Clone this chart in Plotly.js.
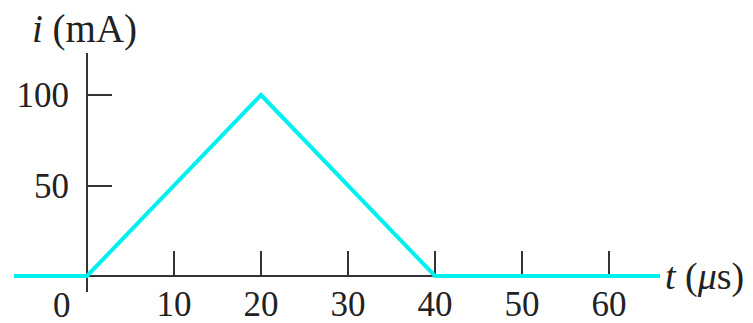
<!DOCTYPE html>
<html>
<head>
<meta charset="utf-8">
<script src="https://cdn.plot.ly/plotly-3.0.1.min.js"></script>
<style>html,body{margin:0;padding:0;background:#fff;}#chart{width:753px;height:323px;}</style>
</head>
<body>
<div id="chart"></div>
<script>
// Data
const timeUs = [-8.4, 0, 20, 40, 66];
const currentMA = [0, 0, 100, 0, 0];
const xTickVals = [10, 20, 30, 40, 50, 60];
const xTickText = ['10', '20', '30', '40', '50', '60'];
const yTickVals = [50, 100];
const yTickText = ['50', '100'];
const originLabel = '0';

const FONT = 'Liberation Serif, Times New Roman, serif';
const TXT = '#222222';
const AX = '#333333';

const trace = {
  x: timeUs, y: currentMA, type: 'scatter', mode: 'lines',
  line: {color: '#00F0F0', width: 4}, hoverinfo: 'skip', cliponaxis: false
};

const plotW = 753 - 14 - 93;
const plotH = 323 - 53 - 31;

const layout = {
  width: 753, height: 323,
  margin: {l: 14, r: 93, t: 53, b: 31},
  paper_bgcolor: '#ffffff', plot_bgcolor: '#ffffff',
  showlegend: false,
  font: {family: FONT, size: 34, color: TXT},
  xaxis: {
    range: [-8.39, 65.86], anchor: 'free', position: 0.0669,
    showgrid: false, zeroline: false, showline: true, linecolor: AX, linewidth: 2,
    ticks: 'inside', ticklen: 24, tickwidth: 2, tickcolor: AX,
    tickvals: xTickVals, ticktext: xTickText, ticklabelstandoff: -3,
    tickfont: {family: FONT, size: 35, color: TXT}, layer: 'below traces', fixedrange: true
  },
  yaxis: {
    range: [-8.84, 123.2], anchor: 'free', position: 0.1130,
    showgrid: false, zeroline: false, showline: true, linecolor: AX, linewidth: 2,
    ticks: 'inside', ticklen: 24, tickwidth: 2, tickcolor: AX,
    tickvals: yTickVals, ticktext: yTickText, ticklabelstandoff: 10,
    tickfont: {family: FONT, size: 35, color: TXT}, layer: 'below traces', fixedrange: true
  },
  annotations: [
    {x: 0, y: 0, xref: 'x', yref: 'y', text: originLabel, showarrow: false,
     xanchor: 'center', yanchor: 'middle', xshift: -25, yshift: -29, height: 30,
     font: {family: FONT, size: 35, color: TXT}},
    {x: (30 - 14) / plotW, y: 1 + (53 - 29) / plotH, xref: 'paper', yref: 'paper',
     text: '<i>i</i> (mA)', showarrow: false,
     xanchor: 'left', yanchor: 'middle',
     font: {family: FONT, size: 39, color: TXT}},
    {x: 65.86, y: 0, xref: 'x', yref: 'y', text: '<i>t</i> (<i>μ</i>s)', showarrow: false,
     xanchor: 'left', yanchor: 'middle', xshift: 3, yshift: 0,
     font: {family: FONT, size: 38, color: TXT}}
  ]
};

Plotly.newPlot('chart', [trace], layout, {displayModeBar: false, staticPlot: true});
</script>
</body>
</html>
